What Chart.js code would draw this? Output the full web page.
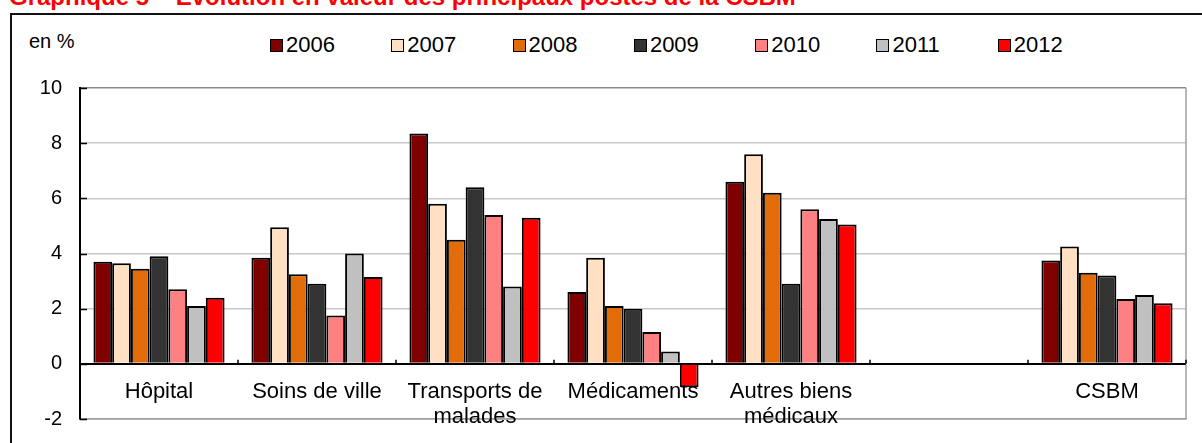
<!DOCTYPE html>
<html>
<head>
<meta charset="utf-8">
<script src="https://cdn.jsdelivr.net/npm/chart.js@4.4.1/dist/chart.umd.min.js"></script>
<style>
  html, body { margin: 0; padding: 0; background: #fff; overflow: hidden; }
  #wrap { position: relative; width: 1202px; height: 443px; overflow: hidden; font-family: "Liberation Sans", Arial, sans-serif; }
  #frame { position: absolute; left: 10px; top: 13px; width: 1400px; height: 600px; border-left: 2px solid #111; border-top: 2px solid #111; }
  #title { position: absolute; left: 9px; top: -17px; color: #ff0000; font-weight: bold; font-size: 24px; white-space: nowrap; }
  #unit { position: absolute; left: 29px; top: 30px; font-size: 20px; color: #000; }
  #legend { position: absolute; left: 270px; top: 33px; display: flex; }
  .item { width: 121.3px; display: flex; align-items: center; font-size: 22px; line-height: 24px; color: #000; }
  .box { width: 11px; height: 11px; border: 1px solid #000; margin-right: 3px; }
  canvas { position: absolute; left: 0; top: 0; }
</style>
</head>
<body>
<div id="wrap">
  <div id="frame"></div>
  <div id="title">Graphique 5 – Évolution en valeur des principaux postes de la CSBM</div>
  <div id="unit">en %</div>
  <div id="legend"></div>
  <canvas id="chart" width="1202" height="443"></canvas>
</div>
<script>
// postes de la CSBM (la 6e colonne est vide dans l'original)
var categories = ['Hôpital', 'Soins de ville', ['Transports de', 'malades'], 'Médicaments', ['Autres biens', 'médicaux'], '', 'CSBM'];
var years = ['2006', '2007', '2008', '2009', '2010', '2011', '2012'];
var colors = ['#800000', '#ffe0c2', '#e36c0a', '#333333', '#ff8080', '#c0c0c0', '#ff0000'];

// évolution en valeur, en %
var v2006 = [3.7, 3.85, 8.35, 2.6, 6.6, null, 3.75];
var v2007 = [3.65, 4.95, 5.8, 3.85, 7.6, null, 4.25];
var v2008 = [3.45, 3.25, 4.5, 2.1, 6.2, null, 3.3];
var v2009 = [3.9, 2.9, 6.4, 2.0, 2.9, null, 3.2];
var v2010 = [2.7, 1.75, 5.4, 1.15, 5.6, null, 2.35];
var v2011 = [2.1, 4.0, 2.8, 0.45, 5.25, null, 2.5];
var v2012 = [2.4, 3.15, 5.3, -0.85, 5.05, null, 2.2];
var series = [v2006, v2007, v2008, v2009, v2010, v2011, v2012];

var yTicks = [-2, 0, 2, 4, 6, 8, 10];

Chart.defaults.font.family = '"Liberation Sans", Arial, sans-serif';
Chart.defaults.color = '#000';

// legend in html, same order as the datasets
var legendEl = document.getElementById('legend');
years.forEach(function (y, i) {
    var item = document.createElement('div');
    item.className = 'item';
    var box = document.createElement('span');
    box.className = 'box';
    box.style.background = colors[i];
    item.appendChild(box);
    item.appendChild(document.createTextNode(y));
    legendEl.appendChild(item);
});

// right frame line + small tick marks (inward on the y axis, upward on the zero line)
var tickMarks = {
    id: 'tickMarks',
    afterDatasetsDraw: function (chart) {
        var ctx = chart.ctx, x = chart.scales.x, y = chart.scales.y;
        var area = chart.chartArea;
        var zero = y.getPixelForValue(0);
        ctx.save();
        ctx.strokeStyle = '#a0a0a0';
        ctx.lineWidth = 1.5;
        ctx.beginPath();
        ctx.moveTo(area.right, area.top);
        ctx.lineTo(area.right, zero);
        ctx.moveTo(area.right, zero + 1);
        ctx.lineTo(area.right, area.bottom);
        ctx.stroke();
        ctx.strokeStyle = '#000';
        ctx.beginPath();
        yTicks.forEach(function (t) {
            var py = Math.round(y.getPixelForValue(t)) + 0.5;
            ctx.moveTo(area.left, py);
            ctx.lineTo(area.left + 7, py);
        });
        for (var k = 0; k < categories.length; k++) {
            var px = Math.round(x.getPixelForValue(k + 0.5));
            ctx.moveTo(px, zero);
            ctx.lineTo(px, zero - 4);
        }
        ctx.stroke();
        ctx.restore();
    }
};

var ctx = document.getElementById('chart').getContext('2d');
var chart = new Chart(ctx, {
    type: 'bar',
    data: {
        labels: categories,
        datasets: years.map(function (y, i) {
            return {
                label: y,
                data: series[i],
                backgroundColor: colors[i],
                borderColor: '#000',
                borderWidth: 2,
                categoryPercentage: 0.83,
                barPercentage: 1
            };
        })
    },
    options: {
        responsive: false,
        animation: false,
        layout: { padding: { left: 0, top: 88, right: 16, bottom: 24 } },
        plugins: {
            legend: { display: false },
            tooltip: { enabled: false }
        },
        scales: {
            x: {
                position: 'bottom',
                offset: true,
                afterFit: function (s) { s.height = 0; },
                grid: { display: false },
                border: { color: '#a0a0a0', width: 1.5 },
                ticks: { font: { size: 22, lineHeight: 1.14 }, mirror: true, padding: 15, maxRotation: 0, autoSkip: false }
            },
            y: {
                min: -2,
                max: 10,
                afterFit: function (s) {
                    s.width = 80;
                    s.paddingTop = 0;
                    s.paddingBottom = 0;
                },
                ticks: { stepSize: 2, font: { size: 20 }, padding: 18 },
                grid: {
                    drawTicks: false,
                    lineWidth: function (c) { return c.tick && c.tick.value === 0 ? 2 : 1.5; },
                    color: function (c) {
                        var v = c.tick ? c.tick.value : null;
                        if (v === 0) return '#000';
                        if (v === 10) return '#8c8c8c';
                        if (v === -2) return '#a0a0a0';
                        return '#c8c8c8';
                    }
                },
                border: { color: '#000', width: 2 }
            }
        }
    },
    plugins: [tickMarks]
});
</script>
</body>
</html>
